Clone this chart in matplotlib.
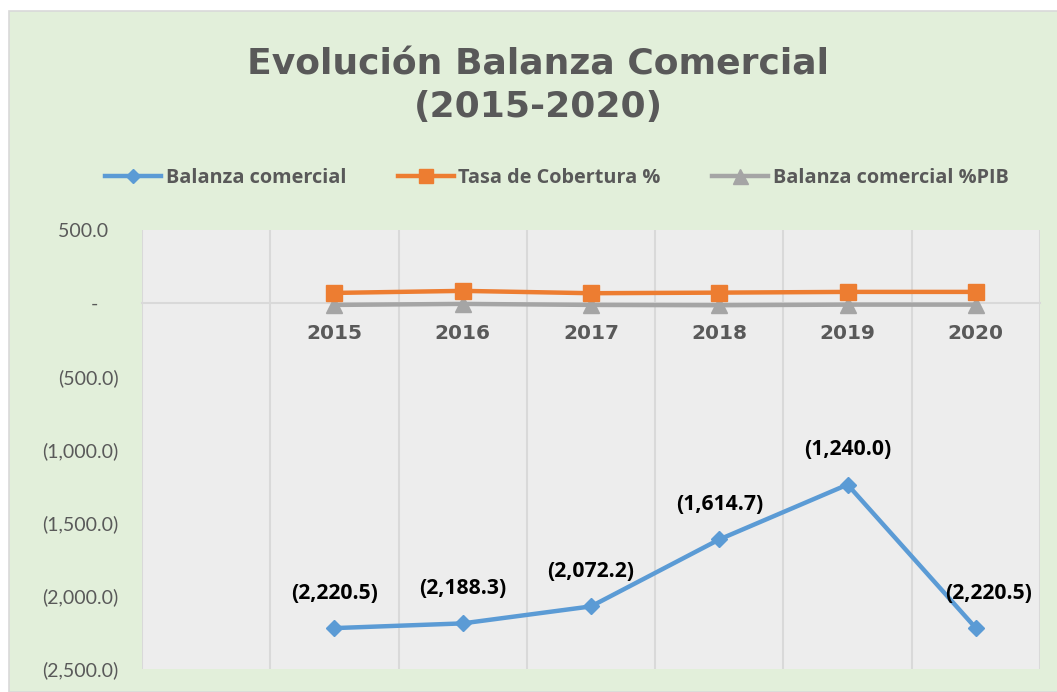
import matplotlib
matplotlib.use("Agg")
import matplotlib.pyplot as plt
from matplotlib import font_manager as fm
from matplotlib.patches import Rectangle
from matplotlib.ticker import FuncFormatter, FixedLocator

plt.rcParams['font.family'] = ['Lato', 'DejaVu Sans']

years = ["2015", "2016", "2017", "2018", "2019", "2020"]
balanza = [-2220.5, -2188.3, -2072.2, -1614.7, -1240.0, -2220.5]
cobertura = [70, 84, 68, 72, 77, 77]
balanza_pib = [-12, -5, -12, -14, -10, -10]
series_names = ["Balanza comercial", "Tasa de Cobertura %", "Balanza comercial %PIB"]
title_text = "Evolución Balanza Comercial\n(2015-2020)"


def bold_props(size):
    return fm.FontProperties(family=["Open Sans", "DejaVu Sans"], weight="bold", size=size)


W, H = 1057, 692
fig = plt.figure(figsize=(W / 100, H / 100), dpi=100, facecolor="white")
fig.patches.append(Rectangle((9 / W, 0), 1.0, 1 - 11 / H, transform=fig.transFigure,
                             facecolor="#E2EFDA", edgecolor="#D9D9D9", lw=1.2, zorder=-10))

ax = fig.add_axes([142 / W, 1 - 669 / H, (1040 - 142) / W, (669 - 230) / H])
ax.set_facecolor("#EDEDED")

x = list(range(1, len(years) + 1))
blue, orange, grey = "#5B9BD5", "#ED7D31", "#A5A5A5"
l1, = ax.plot(x, balanza, color=blue, lw=3.2, marker="D", ms=8, label=series_names[0], zorder=5)
l2, = ax.plot(x, cobertura, color=orange, lw=3.2, marker="s", ms=11, label=series_names[1], zorder=5)
l3, = ax.plot(x, balanza_pib, color=grey, lw=3.2, marker="^", ms=12, label=series_names[2], zorder=4)

ax.set_xlim(-0.5, len(years) + 0.5)
ax.set_ylim(-2500, 500)

for s in ["left", "right", "top"]:
    ax.spines[s].set_visible(False)
ax.spines["bottom"].set_position(("data", 0))
ax.spines["bottom"].set_color("#D9D9D9")
ax.spines["bottom"].set_linewidth(1.5)
ax.spines["bottom"].set_zorder(3)

ax.set_yticks(range(-2500, 501, 500))


def acct(v, pos=None):
    if abs(v) < 1e-9:
        return "-    "
    if v < 0:
        return f"({abs(v):,.1f})"
    return f"{v:,.1f}  "


ax.yaxis.set_major_formatter(FuncFormatter(acct))
ax.tick_params(axis="y", length=0, pad=17, labelsize=14, labelcolor="#595959")

ax.set_xticks(x)
ax.set_xticklabels(years)
ax.tick_params(axis="x", length=0, pad=15, labelsize=14.5, labelcolor="#595959")
for lab in ax.get_xticklabels():
    lab.set_fontweight("bold")
    lab.set_family("DejaVu Sans")
ax.xaxis.set_minor_locator(FixedLocator([i - 0.5 for i in range(0, len(years) + 2)]))
ax.tick_params(axis="x", which="minor", length=0)
ax.grid(which="minor", axis="x", color="#D9D9D9", lw=1.5)
ax.grid(which="major", axis="both", visible=False)

for i, (xi, v) in enumerate(zip(x, balanza)):
    dx = 9 if i == len(x) - 1 else 0
    ax.annotate(acct(v), (xi, v), xytext=(dx, 25), textcoords="offset points",
                ha="center", va="center", fontproperties=bold_props(15.2),
                color="black", zorder=6)

fig.text(538 / W, 1 - 86 / H, title_text, ha="center", va="center", fontsize=26,
         fontweight="bold", color="#595959", linespacing=1.3, family="DejaVu Sans")

leg = fig.legend(handles=[l1, l2, l3], loc="center", bbox_to_anchor=(557 / W, 1 - 178 / H),
                 ncol=3, frameon=False, prop=bold_props(14.3),
                 handlelength=2.8, handletextpad=0.25, columnspacing=2.6, markerscale=0.9)
for t in leg.get_texts():
    t.set_color("#595959")

fig.savefig("out.png", dpi=100, facecolor="white")
